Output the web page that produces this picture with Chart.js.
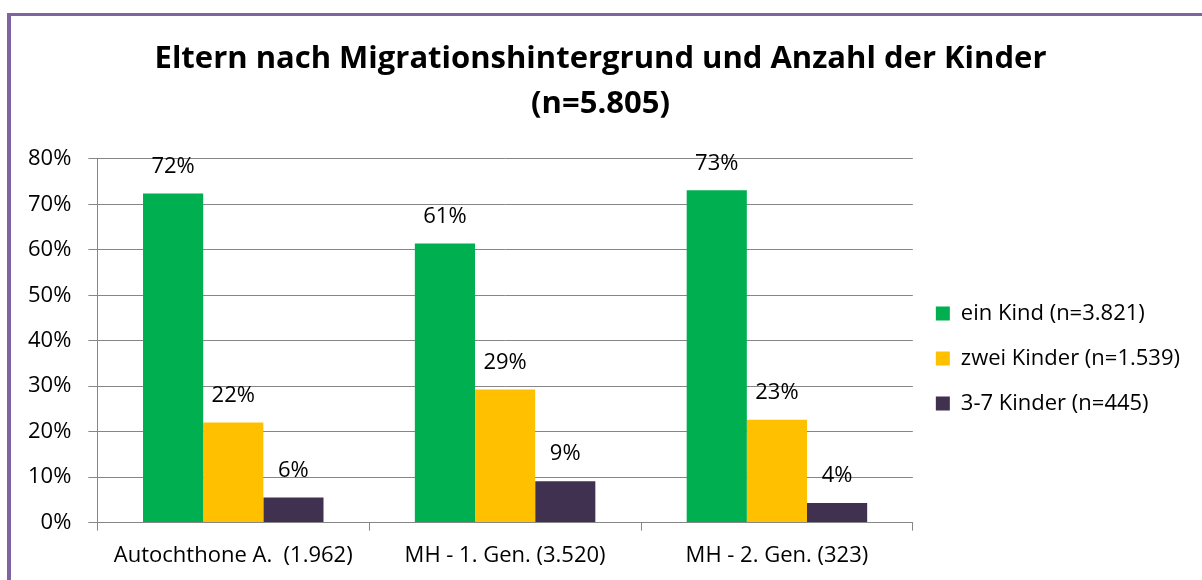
<!DOCTYPE html>
<html>
<head>
<meta charset="utf-8">
<script src="https://cdn.jsdelivr.net/npm/chart.js@4/dist/chart.umd.min.js"></script>
<style>
  html, body { margin: 0; padding: 0; background: #fff; }
  #wrap { position: relative; width: 1202px; height: 580px; overflow: hidden; }
  #frame { position: absolute; left: 7px; top: 13px; width: 1300px; height: 700px;
           border-top: 3px solid #8064A2; border-left: 4px solid #8064A2; }
  canvas { position: absolute; left: 0; top: 0; }
</style>
</head>
<body>
<div id="wrap">
  <div id="frame"></div>
  <canvas id="chart" width="1202" height="580"></canvas>
</div>
<script>
  // Daten
  const categories = ['Autochthone A.  (1.962)', 'MH - 1. Gen. (3.520)', 'MH - 2. Gen. (323)'];
  const seriesNames = ['ein Kind (n=3.821)', 'zwei Kinder (n=1.539)', '3-7 Kinder (n=445)'];
  const einKind = [72.4, 61.4, 73.1];
  const zweiKinder = [22.0, 29.3, 22.6];
  const dreiBisSieben = [5.5, 9.1, 4.3];
  const seriesColors = ['#00B050', '#FFC000', '#403151'];

  const fontFamily = '"Open Sans", sans-serif';
  const fontSize = 22;

  // Beschriftungen über den Balken
  const valueLabels = {
      id: 'valueLabels',
      afterDatasetsDraw(chart) {
          const ctx = chart.ctx;
          ctx.save();
          ctx.font = fontSize + 'px ' + fontFamily;
          ctx.fillStyle = '#000';
          ctx.textAlign = 'center';
          ctx.textBaseline = 'middle';
          chart.data.datasets.forEach((ds, i) => {
              chart.getDatasetMeta(i).data.forEach((bar, j) => {
                  ctx.fillText(Math.round(ds.data[j]) + '%', bar.x, bar.y - 27);
              });
          });
          ctx.restore();
      }
  };

  const ctx = document.getElementById('chart').getContext('2d');
  new Chart(ctx, {
      type: 'bar',
      data: {
          labels: categories,
          datasets: [
              { label: seriesNames[0], data: einKind, backgroundColor: seriesColors[0] },
              { label: seriesNames[1], data: zweiKinder, backgroundColor: seriesColors[1] },
              { label: seriesNames[2], data: dreiBisSieben, backgroundColor: seriesColors[2] }
          ]
      },
      options: {
          responsive: false,
          animation: false,
          layout: { padding: { left: 11, right: 12, top: 32, bottom: -1 } },
          datasets: { bar: { categoryPercentage: 0.664, barPercentage: 1.0 } },
          plugins: {
              title: {
                  display: true,
                  text: ['Eltern nach Migrationshintergrund und Anzahl der Kinder', '(n=5.805)'],
                  color: '#000',
                  font: { family: fontFamily, size: 31, weight: 'bold', lineHeight: 1.45 },
                  padding: { top: 5, bottom: 32 }
              },
              legend: {
                  position: 'right',
                  title: { display: true, text: ' ', padding: { top: 0, bottom: 72 }, font: { size: 20, lineHeight: 1.6 } },
                  labels: {
                      color: '#000',
                      font: { family: fontFamily, size: fontSize },
                      boxWidth: 14,
                      boxHeight: 14,
                      padding: 23
                  }
              },
              tooltip: { enabled: false }
          },
          scales: {
              x: {
                  grid: { display: true, drawOnChartArea: false, offset: true, color: '#868686', tickLength: 8 },
                  border: { color: '#868686' },
                  ticks: { color: '#000', font: { family: fontFamily, size: fontSize }, padding: 12 }
              },
              y: {
                  min: 0,
                  max: 80,
                  ticks: { stepSize: 10, color: '#000', font: { family: fontFamily, size: fontSize }, padding: 17,
                           callback: v => v + '%' },
                  grid: { color: '#868686', tickLength: 9 },
                  border: { color: '#868686' }
              }
          }
      },
      plugins: [valueLabels]
  });
</script>
</body>
</html>
